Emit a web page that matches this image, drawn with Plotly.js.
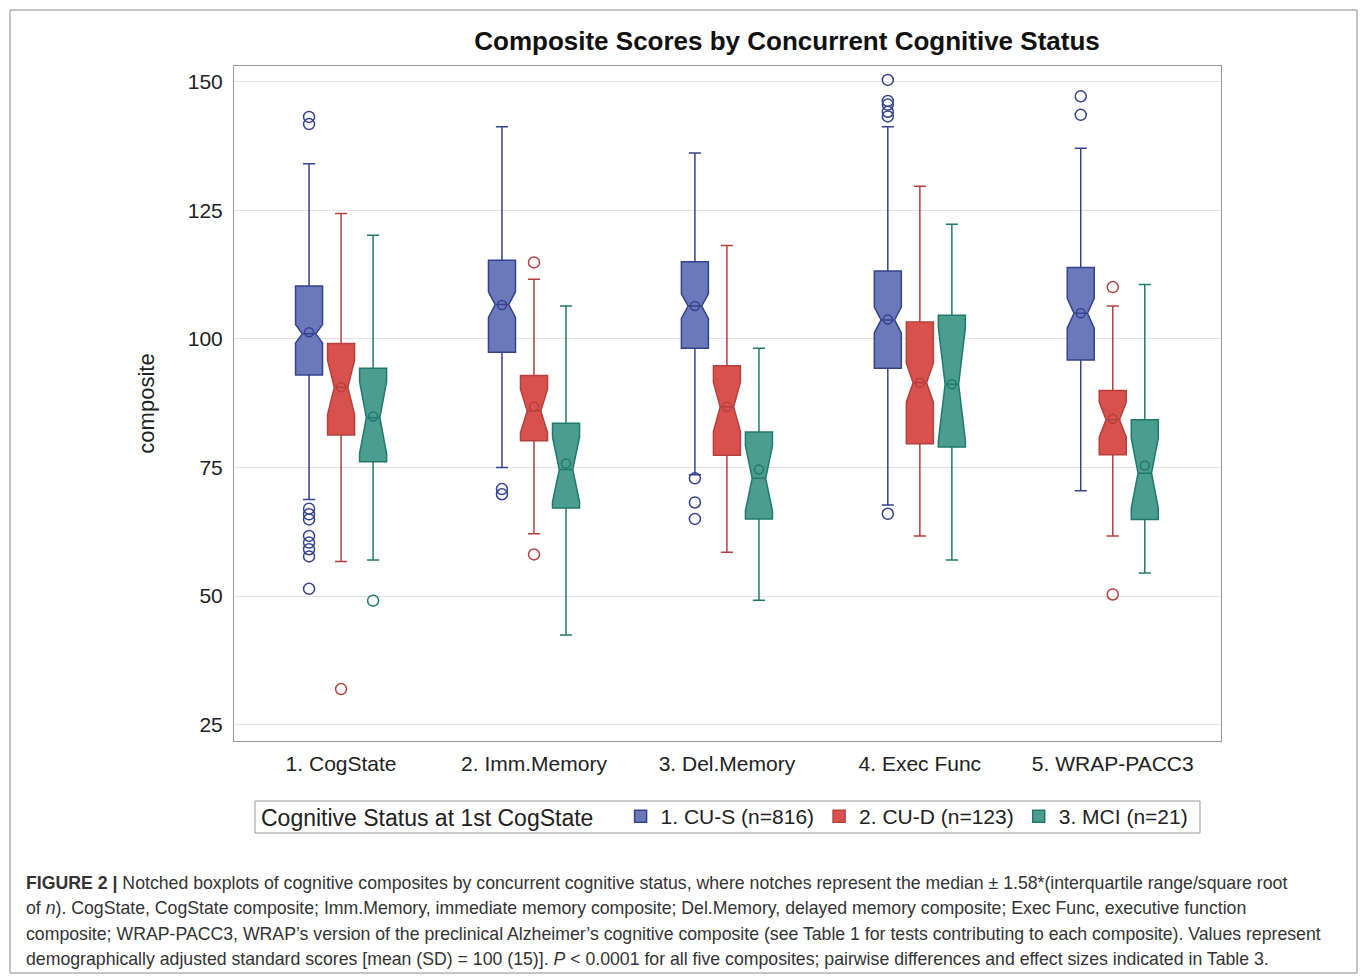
<!DOCTYPE html>
<html>
<head>
<meta charset="utf-8">
<script src="https://cdn.plot.ly/plotly-3.0.1.min.js"></script>
<style>
html,body{margin:0;padding:0;background:#fff;}
#chart{width:1360px;height:976px;}
</style>
</head>
<body>
<div id="chart"></div>
<script>
// ---- data ----
const categories = ['1. CogState', '2. Imm.Memory', '3. Del.Memory', '4. Exec Func', '5. WRAP-PACC3'];
const seriesNames = ['1. CU-S (n=816)', '2. CU-D (n=123)', '3. MCI (n=21)'];
const legendTitle = 'Cognitive Status at 1st CogState';
const yTicks = [25, 50, 75, 100, 125, 150];

const cusQ1 = [93.0, 97.4, 98.2, 94.3, 95.9];
const cusMedian = [101.0, 106.7, 106.4, 103.7, 105.0];
const cusQ3 = [110.3, 115.3, 115.0, 113.2, 113.9];
const cusLower = [68.8, 75.0, 73.6, 67.7, 70.5];
const cusUpper = [134.1, 141.3, 136.2, 141.3, 137.1];
const cusMean = [101.3, 106.6, 106.4, 103.8, 105.0];
const cusNotch = [1.8, 2.5, 2.4, 2.5, 2.9];
const cusOutliers = [
  [143.2, 141.8, 67.0, 65.9, 64.9, 61.7, 60.4, 59.1, 57.7, 51.4],
  [70.8, 69.8],
  [72.9, 68.2, 65.0],
  [150.4, 146.3, 145.6, 144.2, 143.3, 66.0],
  [147.2, 143.6]
];

const cudQ1 = [81.3, 80.2, 77.4, 79.6, 77.5];
const cudMedian = [90.6, 86.0, 86.8, 91.5, 84.3];
const cudQ3 = [99.1, 92.9, 94.8, 103.3, 90.0];
const cudLower = [56.7, 62.1, 58.5, 61.7, 61.7];
const cudUpper = [124.4, 111.6, 118.2, 129.7, 106.4];
const cudMean = [90.6, 86.8, 86.8, 91.5, 84.5];
const cudNotch = [5.3, 4.2, 4.8, 3.8, 3.4];
const cudOutliers = [[31.9], [114.9, 58.1], [], [], [110.1, 50.3]];

const mciQ1 = [76.1, 67.1, 65.0, 79.0, 64.9];
const mciMedian = [84.7, 74.6, 72.9, 91.2, 73.9];
const mciQ3 = [94.3, 83.6, 81.9, 104.6, 84.3];
const mciLower = [57.0, 42.4, 49.2, 57.0, 54.5];
const mciUpper = [120.2, 106.4, 98.2, 122.3, 110.6];
const mciMean = [84.9, 75.8, 74.6, 91.2, 75.4];
const mciNotch = [7.0, 6.3, 6.3, 11.0, 6.8];
const mciOutliers = [[49.1], [], [], [], []];

const captionLines = [
  '<b>FIGURE 2 |</b> Notched boxplots of cognitive composites by concurrent cognitive status, where notches represent the median ± 1.58*(interquartile range/square root',
  'of <i>n</i>). CogState, CogState composite; Imm.Memory, immediate memory composite; Del.Memory, delayed memory composite; Exec Func, executive function',
  'composite; WRAP-PACC3, WRAP’s version of the preclinical Alzheimer’s cognitive composite (see Table 1 for tests contributing to each composite). Values represent',
  'demographically adjusted standard scores [mean (SD) = 100 (15)]. <i>P</i> &lt; 0.0001 for all five composites; pairwise differences and effect sizes indicated in Table 3.'
];

// ---- styling ----
const fills = ['#6b78ba', '#d9514d', '#4a9d8f'];
const edges = ['#34428f', '#b5403d', '#1f7a6b'];
const offsets = [-0.166, 0, 0.166];
const boxWidth = 0.14;

const series = [
  {q1: cusQ1, med: cusMedian, q3: cusQ3, lo: cusLower, hi: cusUpper, mean: cusMean, notch: cusNotch, out: cusOutliers},
  {q1: cudQ1, med: cudMedian, q3: cudQ3, lo: cudLower, hi: cudUpper, mean: cudMean, notch: cudNotch, out: cudOutliers},
  {q1: mciQ1, med: mciMedian, q3: mciQ3, lo: mciLower, hi: mciUpper, mean: mciMean, notch: mciNotch, out: mciOutliers}
];

const traces = [];
series.forEach((s, k) => {
  const xs = categories.map((c, i) => i + offsets[k]);
  traces.push({
    type: 'box', name: seriesNames[k], legendgroup: 'g' + k,
    x: xs, q1: s.q1, median: s.med, q3: s.q3,
    lowerfence: s.lo, upperfence: s.hi,
    notched: true, notchspan: s.notch, notchwidth: 0.25,
    width: boxWidth, whiskerwidth: 0.45,
    fillcolor: fills[k], line: {color: edges[k], width: 1.5},
    boxpoints: false, hoverinfo: 'skip'
  });
  // means
  traces.push({
    type: 'scatter', mode: 'markers', showlegend: false, legendgroup: 'g' + k,
    x: xs, y: s.mean, hoverinfo: 'skip',
    marker: {symbol: 'circle-open', size: 9, color: edges[k], line: {width: 1.5}}
  });
  // outliers
  const ox = [], oy = [];
  s.out.forEach((arr, i) => arr.forEach(v => { ox.push(i + offsets[k]); oy.push(v); }));
  traces.push({
    type: 'scatter', mode: 'markers', showlegend: false, legendgroup: 'g' + k,
    x: ox, y: oy, hoverinfo: 'skip',
    marker: {symbol: 'circle-open', size: 11, color: edges[k], line: {width: 1.5}}
  });
});

// ---- layout geometry (pixels) ----
const W = 1360, H = 976;
const mL = 234, mR = 139, mT = 66, mB = 235;
const pw = W - mL - mR, ph = H - mT - mB;
const px = x => (x - mL) / pw;
const py = y => (H - mB - y) / ph;

const annotations = captionLines.map((t, i) => ({
  text: t, xref: 'paper', yref: 'paper', x: px(24), y: py(883 + i * 25.3),
  xanchor: 'left', yanchor: 'middle', showarrow: false, align: 'left',
  font: {family: 'Liberation Sans, Arial, sans-serif', size: 17.7, color: '#333'}
}));

const layout = {
  width: W, height: H,
  margin: {l: mL, r: mR, t: mT, b: mB, pad: 0},
  paper_bgcolor: '#fff', plot_bgcolor: '#fff',
  font: {family: 'Liberation Sans, Arial, sans-serif', color: '#222'},
  title: {
    text: 'Composite Scores by Concurrent Cognitive Status',
    x: 787 / W, xref: 'container', xanchor: 'center',
    y: 1 - 41 / H, yref: 'container', yanchor: 'middle',
    font: {family: 'Liberation Sans, Arial, sans-serif', size: 26, color: '#111', weight: 'bold'}
  },
  showlegend: true,
  legend: {
    orientation: 'h', x: px(259), y: py(796), xanchor: 'left', yanchor: 'top',
    title: {text: legendTitle + '\u00a0\u00a0\u00a0', side: 'left', font: {size: 23, color: '#222'}},
    font: {size: 21, color: '#222'},
    borderwidth: 0, bgcolor: 'rgba(0,0,0,0)',
    itemclick: false, traceorder: 'normal'
  },
  xaxis: {
    type: 'linear', range: [-0.555, 4.561],
    tickvals: categories.map((c, i) => i), ticktext: categories,
    showgrid: false, zeroline: false, ticks: '',
    showline: true, mirror: true, linecolor: '#9a9a9a', linewidth: 1,
    tickfont: {size: 21, color: '#222'}, ticklabelstandoff: 4
  },
  yaxis: {
    range: [21.8, 153.1], tickvals: yTicks,
    showgrid: true, gridcolor: '#e3e3e3', gridwidth: 1, zeroline: false, ticks: '',
    showline: true, mirror: true, linecolor: '#9a9a9a', linewidth: 1,
    tickfont: {size: 21, color: '#222'}, ticklabelstandoff: 6,
    title: {text: 'composite', standoff: 27, font: {size: 22, color: '#222'}}
  },
  shapes: [{
    type: 'rect', xref: 'paper', yref: 'paper',
    x0: px(10), x1: px(1357), y0: py(973), y1: py(10),
    line: {color: '#8a8a8a', width: 1}, fillcolor: 'rgba(0,0,0,0)', layer: 'below'
  }, {
    type: 'rect', xref: 'paper', yref: 'paper',
    x0: px(255), x1: px(1200), y0: py(833), y1: py(801),
    line: {color: '#9a9a9a', width: 1}, fillcolor: 'rgba(0,0,0,0)', layer: 'below'
  }],
  annotations: annotations
};

Plotly.newPlot('chart', traces, layout, {staticPlot: true, displayModeBar: false});
</script>
</body>
</html>
